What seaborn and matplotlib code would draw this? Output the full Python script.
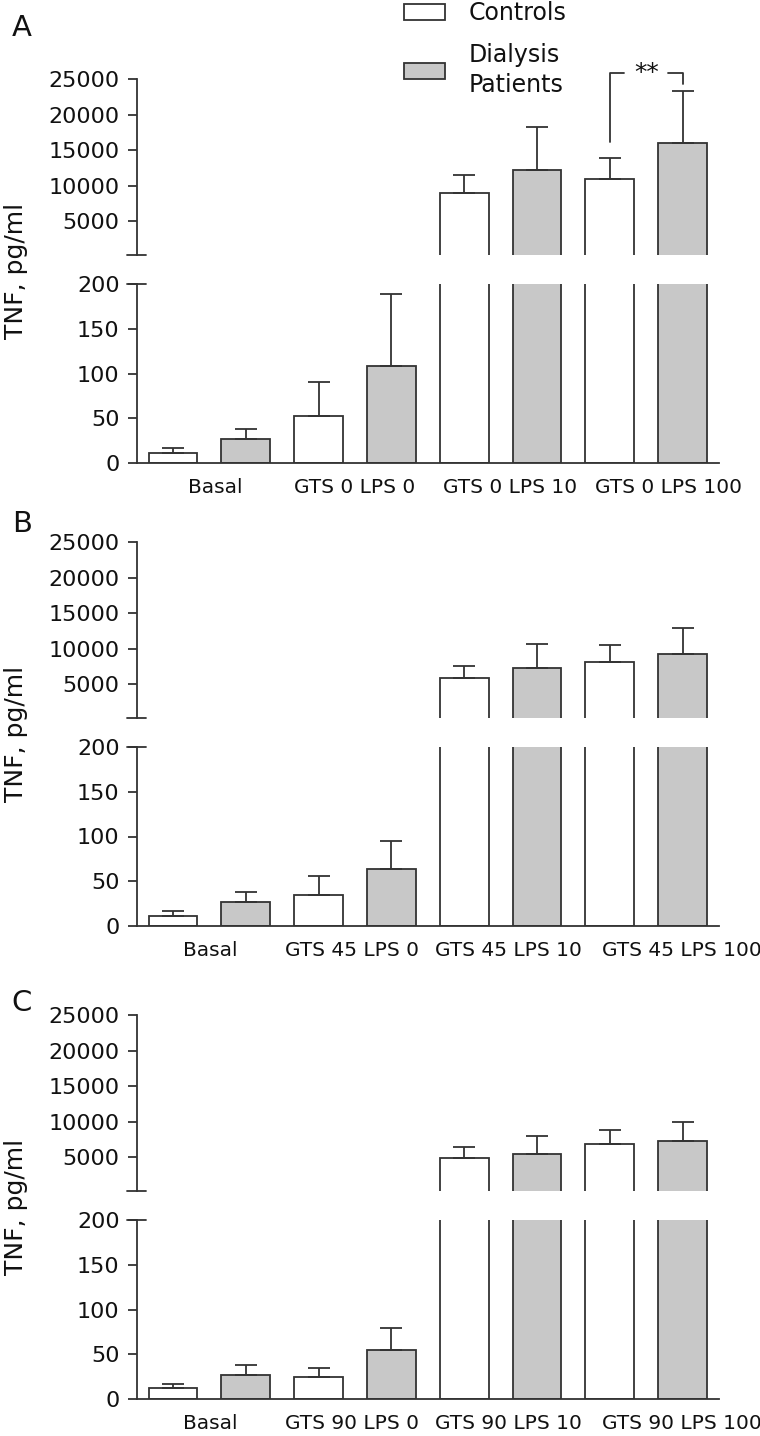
import pandas as pd
import seaborn as sns
import matplotlib.pyplot as plt
from matplotlib.patches import Patch
from matplotlib.transforms import ScaledTranslation

sns.set_theme(style="ticks")
plt.rcParams['font.family'] = ['DejaVu Sans']

# data (means and upper SD)
groups = ["Controls", "Dialysis\nPatients"]

cats_A = ["Basal", "GTS 0 LPS 0", "GTS 0 LPS 10", "GTS 0 LPS 100"]
ctrl_A = [11, 52, 8900, 10900]
ctrl_A_sd = [5, 39, 2600, 2950]
dial_A = [27, 108, 12200, 16050]
dial_A_sd = [11, 81, 6100, 7350]

cats_B = ["Basal", "GTS 45 LPS 0", "GTS 45 LPS 10", "GTS 45 LPS 100"]
ctrl_B = [11, 34, 5840, 8130]
ctrl_B_sd = [5, 22, 1680, 2380]
dial_B = [27, 64, 7240, 9210]
dial_B_sd = [11, 31, 3360, 3640]

cats_C = ["Basal", "GTS 90 LPS 0", "GTS 90 LPS 10", "GTS 90 LPS 100"]
ctrl_C = [12, 24, 4860, 6820]
ctrl_C_sd = [4, 10, 1540, 1970]
dial_C = [27, 55, 5420, 7240]
dial_C_sd = [11, 24, 2480, 2660]

top_ticks = [5000, 10000, 15000, 20000, 25000]
low_ticks = [0, 50, 100, 150, 200]

EDGE = '#333333'
pal = {groups[0]: 'white', groups[1]: '#c8c8c8'}
LW = 1.3

W, H = 760, 1436
fig = plt.figure(figsize=(W / 100, H / 100), dpi=100)


def add_ax(left, top, right, bottom):
    return fig.add_axes([left / W, 1 - bottom / H, (right - left) / W, (bottom - top) / H])


def draw_bars(ax, ylim, cats, ctrl, ctrl_sd, dial, dial_sd):
    df = pd.DataFrame({
        "condition": cats * 2,
        "group": [groups[0]] * len(cats) + [groups[1]] * len(cats),
        "value": ctrl + dial,
    })
    sns.barplot(data=df, x="condition", y="value", hue="group", order=cats,
                hue_order=groups, palette=pal, saturation=1, errorbar=None,
                width=1.0, gap=0.33, edgecolor=EDGE, linewidth=LW,
                legend=False, ax=ax)
    ax.set_ylim(*ylim)
    # upper error bars only, for bars whose top falls in this part of the axis
    for cont, sds in zip(ax.containers, [ctrl_sd, dial_sd]):
        for bar, sd in zip(cont, sds):
            h = bar.get_height()
            if not (ylim[0] < h < ylim[1]):
                continue
            xc = bar.get_x() + bar.get_width() / 2
            ax.errorbar(xc, h, yerr=[[0], [sd]], fmt='none',
                        ecolor=EDGE, elinewidth=LW, capsize=8, capthick=LW)
    ax.set_xlim(-0.5, 3.5)
    ax.set_xlabel("")
    ax.set_ylabel("")


def break_mark(ax, y):
    wpx = ax.get_position().width * W
    d = 9.5 / wpx
    ax.plot([-d, d], [y, y], transform=ax.transAxes, color=EDGE, lw=LW,
            clip_on=False)


panels = [
    ("A", cats_A, ctrl_A, ctrl_A_sd, dial_A, dial_A_sd, 0, 28, [6, 0, 9, 22]),
    ("B", cats_B, ctrl_B, ctrl_B_sd, dial_B, dial_B_sd, 463, 524, [1, -3, 8, 36]),
    ("C", cats_C, ctrl_C, ctrl_C_sd, dial_C, dial_C_sd, 936, 1003, [1, -3, 8, 36]),
]

L, R = 136.7, 719
for letter, cats, c, csd, dd, dsd, off, ly, nudges in panels:
    ax_t = add_ax(L, 79.3 + off, R, 255.3 + off)
    ax_b = add_ax(L, 284.3 + off, R, 462.7 + off)

    for ax, lim in ((ax_t, (150, 25000)), (ax_b, (0, 200))):
        draw_bars(ax, lim, cats, c, csd, dd, dsd)
        sns.despine(ax=ax)
        ax.spines['left'].set_color(EDGE)
        ax.spines['left'].set_linewidth(LW)
        ax.tick_params(axis='y', length=6.8, width=LW, color=EDGE, pad=5.5,
                       labelsize=16, labelcolor='#111111')

    # upper (broken) part
    ax_t.set_yticks(top_ticks)
    ax_t.spines['bottom'].set_visible(False)
    ax_t.set_xticks([])
    break_mark(ax_t, 0)

    # lower part
    ax_b.set_yticks(low_ticks)
    ax_b.spines['bottom'].set_color(EDGE)
    ax_b.spines['bottom'].set_linewidth(LW)
    ax_b.tick_params(axis='x', length=0, pad=11, labelsize=14.5,
                     labelcolor='#111111')
    break_mark(ax_b, 1)
    for lab, dx in zip(ax_b.get_xticklabels(), nudges):
        lab.set_transform(lab.get_transform() +
                          ScaledTranslation(dx / 100, 0, fig.dpi_scale_trans))

    fig.text(16 / W, 1 - (271 + off) / H, "TNF, pg/ml", rotation=90,
             ha='center', va='center', fontsize=18, color='#111111')
    fig.text(22 / W, 1 - ly / H, letter, ha='center', va='center',
             fontsize=21, color='#111111')

    if letter == "A":
        # significance bracket over GTS 0 LPS 100
        xs = [b.get_x() + b.get_width() / 2 for b in
              (ax_t.containers[0][3], ax_t.containers[1][3])]
        top = 25900
        gap = 0.15
        mid = (xs[0] + xs[1]) / 2
        ax_t.plot([xs[0], xs[0], mid - gap], [16200, top, top], color=EDGE,
                  lw=LW, clip_on=False)
        ax_t.plot([mid + gap, xs[1], xs[1]], [top, top, 24330], color=EDGE,
                  lw=LW, clip_on=False)
        ax_t.text(mid, 24900, "**", ha='center', va='baseline', fontsize=18,
                  color='#111111', clip_on=False)

handles = [Patch(facecolor=pal[g], edgecolor=EDGE, linewidth=LW) for g in groups]
leg = fig.legend(handles, groups, loc='upper left',
                 bbox_to_anchor=(404 / W, 1 - 1 / H),
                 frameon=False, fontsize=17, handlelength=1.75, handleheight=0.65,
                 handletextpad=1.0, labelspacing=0.75, borderpad=0,
                 borderaxespad=0, labelcolor='#111111')
for t in leg.get_texts():
    t.set_linespacing(1.35)

fig.savefig("out.png", dpi=100)
